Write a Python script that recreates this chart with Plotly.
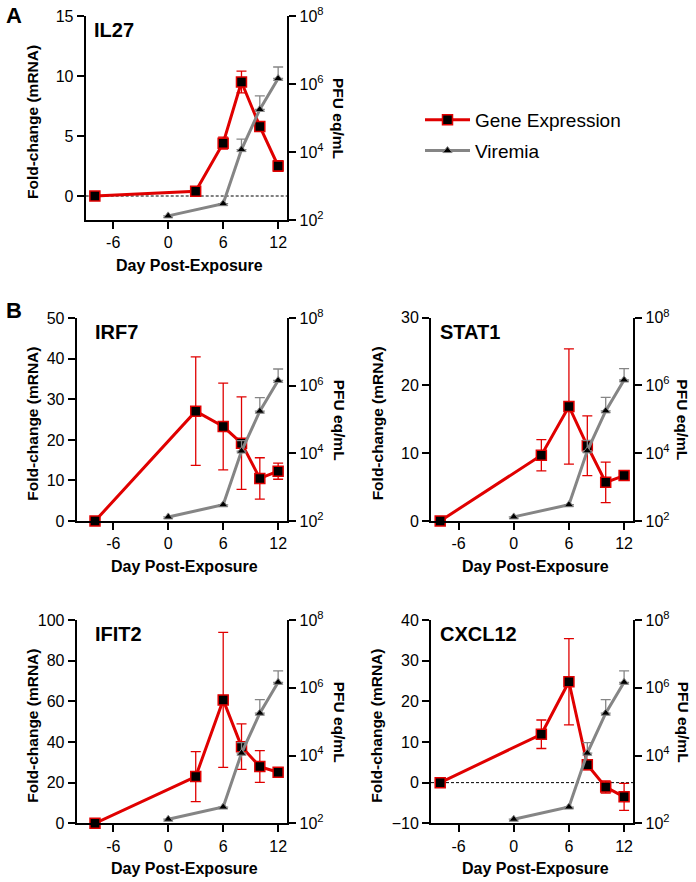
import plotly.graph_objects as go

# ---------------- data ----------------
gene_days = [-8, 3, 6, 8, 10, 12]
virus_days = [0, 6, 8, 10, 12]

panel_names = ["IL27", "IRF7", "STAT1", "IFIT2", "CXCL12"]

il27 = [0, 0.4, 4.4, 9.5, 5.8, 2.5]
il27_err = [0, 0.15, 0.5, 0.9, 0.4, 0.45]
irf7 = [0, 27.1, 23.3, 19.2, 10.5, 12.3]
irf7_err = [0, 13.4, 10.7, 11.4, 5.1, 2.0]
stat1 = [0, 9.7, 16.9, 11.1, 5.7, 6.7]
stat1_err = [0, 2.3, 8.5, 4.4, 3.0, 0.3]
ifit2 = [0, 23.0, 60.7, 37.7, 27.9, 25.1]
ifit2_err = [0, 12.3, 33.2, 11.2, 7.8, 0.5]
cxcl12 = [0, 11.9, 24.8, 4.4, -1.1, -3.5]
cxcl12_err = [0, 3.5, 10.6, 1.2, 1.5, 3.3]

viremia = [132, 302, 11750, 177800, 1450000]
viremia_err_plus = [0, 0, 12250, 269000, 1710000]

y_ranges = [[-2, 15], [0, 50], [0, 30], [0, 100], [-10, 40]]
y_dticks = [5, 10, 10, 20, 10]
x_ranges = [[-9, 13], [-10, 13], [-9, 13], [-10, 13], [-9, 13]]
x_ticks = [-6, 0, 6, 12]
x_ticktext = ["-6", "0", "6", "12"]
pfu_ticks = [1e2, 1e4, 1e6, 1e8]
pfu_ticktext = ["10<sup>2</sup>", "10<sup>4</sup>", "10<sup>6</sup>", "10<sup>8</sup>"]

gene_series = [il27, irf7, stat1, ifit2, cxcl12]
gene_errs = [il27_err, irf7_err, stat1_err, ifit2_err, cxcl12_err]

# ---------------- layout geometry (pixels) ----------------
W, H = 696, 882
# (left, right, top, bottom) of plot areas
boxes = [
    (85.7, 287.3, 16, 220),
    (76.7, 287.3, 318.3, 521),
    (431, 633.3, 317.7, 521),
    (76.7, 287.3, 620, 823.3),
    (431, 633.3, 620, 823.3),
]
left_title_x = [33, 33, 377, 33, 377]
right_title_x = [339, 339, 683, 339, 683]
name_x = [92, 93, 438, 93, 438]

FONT = "Liberation Sans, Arial, sans-serif"
RED = "#e00000"
GREY = "#858585"

fig = go.Figure()
layout = dict(
    template="none",
    width=W, height=H,
    margin=dict(l=0, r=0, t=0, b=0, pad=0),
    paper_bgcolor="white", plot_bgcolor="white",
    font=dict(family=FONT, size=16, color="black"),
    showlegend=True,
    hovermode=False,
    legend=dict(x=420 / W, y=1 - 101 / H, xanchor="left", yanchor="top",
                font=dict(size=19, family=FONT), itemwidth=45,
                tracegroupgap=3, traceorder="grouped",
                bgcolor="rgba(0,0,0,0)", borderwidth=0),
)
annotations = []
shapes = []

axis_common = dict(showline=True, linecolor="black", linewidth=2,
                   ticks="outside", ticklen=7, tickwidth=2, tickcolor="black",
                   showgrid=False, zeroline=False, automargin=False,
                   tickfont=dict(size=16, family=FONT, color="black"))

for i, (l, r, t, b) in enumerate(boxes):
    xa = "x" if i == 0 else f"x{i+1}"
    ya = f"y{2*i+1}" if i > 0 else "y"
    yb = f"y{2*i+2}"
    xkey = "xaxis" if i == 0 else f"xaxis{i+1}"
    ykey = "yaxis" if i == 0 else f"yaxis{2*i+1}"
    y2key = f"yaxis{2*i+2}"
    xd = [l / W, r / W]
    yd = [1 - b / H, 1 - t / H]
    layout[xkey] = dict(domain=xd, anchor=ya, range=x_ranges[i], tickvals=x_ticks,
                        ticktext=x_ticktext, **axis_common)
    layout[ykey] = dict(domain=yd, anchor=xa, range=y_ranges[i], dtick=y_dticks[i],
                        tick0=0, **axis_common)
    layout[y2key] = dict(domain=yd, anchor=xa, overlaying=ya, side="right", type="log",
                         range=[2, 8], tickvals=pfu_ticks, ticktext=pfu_ticktext,
                         **axis_common)

    fig.add_trace(go.Scatter(
        x=gene_days, y=gene_series[i], xaxis=xa, yaxis=ya,
        mode="lines+markers", name="Gene Expression", legendgroup="g",
        showlegend=(i == 0), cliponaxis=False,
        line=dict(color=RED, width=3),
        marker=dict(symbol="square", size=10, color="black",
                    line=dict(color=RED, width=1.5)),
        error_y=dict(type="data", array=gene_errs[i], color=RED,
                     thickness=1.3, width=5, visible=True),
    ))
    fig.add_trace(go.Scatter(
        x=virus_days, y=viremia, xaxis=xa, yaxis=yb,
        mode="lines+markers", name="Viremia", legendgroup="v",
        showlegend=(i == 0), cliponaxis=False,
        line=dict(color=GREY, width=3),
        marker=dict(symbol="triangle-up", size=8, color="black",
                    line=dict(color=GREY, width=1)),
        error_y=dict(type="data", array=viremia_err_plus,
                     arrayminus=[0] * len(viremia), color=GREY,
                     thickness=1.3, width=5, visible=True),
    ))

    # dashed zero line when axis goes below zero
    if y_ranges[i][0] < 0:
        shapes.append(dict(type="line", xref=f"{xa} domain", yref=ya,
                           x0=0, x1=1, y0=0, y1=0,
                           line=dict(color="black", width=1, dash="3px,2px"),
                           layer="below"))

    # panel gene name
    annotations.append(dict(text=f"<b>{panel_names[i]}</b>", xref="paper", yref="paper",
                            x=name_x[i] / W, y=1 - (t + 14) / H, xanchor="left",
                            yanchor="middle", showarrow=False,
                            font=dict(size=20, family=FONT)))
    # left y title
    annotations.append(dict(text="<b>Fold-change (mRNA)</b>", xref="paper", yref="paper",
                            x=left_title_x[i] / W, y=1 - ((t + b) / 2 + 4) / H, textangle=-90,
                            xanchor="center", yanchor="middle", showarrow=False,
                            font=dict(size=15.5, family=FONT)))
    # right y title
    annotations.append(dict(text="<b>PFU eq/mL</b>", xref="paper", yref="paper",
                            x=right_title_x[i] / W, y=1 - (t + b) / 2 / H, textangle=90,
                            xanchor="center", yanchor="middle", showarrow=False,
                            font=dict(size=15.5, family=FONT)))
    # x title
    annotations.append(dict(text="<b>Day Post-Exposure</b>", xref="paper", yref="paper",
                            x=(l + r) / 2 / W + 3 / W, y=1 - (b + 45) / H,
                            xanchor="center", yanchor="middle", showarrow=False,
                            font=dict(size=16, family=FONT)))

# panel letters
annotations.append(dict(text="<b>A</b>", xref="paper", yref="paper", x=4 / W, y=1 - 15 / H,
                        xanchor="left", yanchor="middle", showarrow=False,
                        font=dict(size=22, family=FONT)))
annotations.append(dict(text="<b>B</b>", xref="paper", yref="paper", x=4 / W, y=1 - 310 / H,
                        xanchor="left", yanchor="middle", showarrow=False,
                        font=dict(size=22, family=FONT)))

layout["annotations"] = annotations
layout["shapes"] = shapes
fig.update_layout(**layout)
fig.write_html("out.html", config={"displayModeBar": False},
               post_script="document.body.style.margin='0';document.body.style.overflow='hidden';")
